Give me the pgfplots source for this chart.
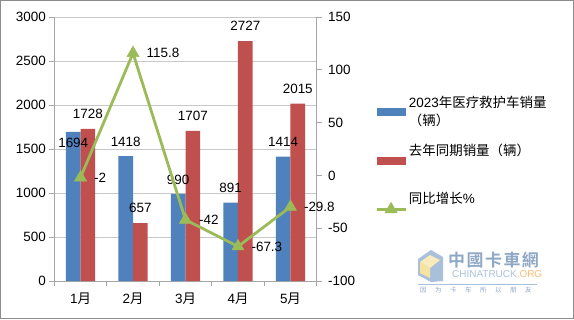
\documentclass[border=0pt]{standalone}
\usepackage{pgfplots}
\pgfplotsset{compat=1.18}
\usepackage{pgfplotstable}
\usepackage{fontspec}
\setmainfont{Liberation Sans}
\newfontfamily\cjk{Noto Sans CJK SC}
\newfontfamily\cjkb{Noto Sans CJK SC Bold}
\definecolor{cblue}{HTML}{4F81BD}
\definecolor{cred}{HTML}{C0504D}
\definecolor{cgreen}{HTML}{9BBB59}
\definecolor{cgrid}{HTML}{C8C8C8}
\definecolor{caxis}{HTML}{A6A6A6}
\definecolor{cframe}{HTML}{8C8C8C}
\definecolor{wmblue}{HTML}{8FA8C6}
\definecolor{wmlight}{HTML}{A9C0DA}
\definecolor{wmyel}{HTML}{F6E3A0}
\pgfplotsset{
  barlegend/.style={legend image code/.code={\fill[##1] (0bp,-4bp) rectangle (29bp,4bp);}},
  linelegend/.style={legend image code/.code={\draw[mark repeat=2,mark phase=2,##1] plot coordinates {(0bp,0bp) (14.5bp,0bp) (29bp,0bp)};}},
}
\pgfplotstableread{
x a b la lb g
0 1694 1728 -11 15 -2
1 1418 657 14.5 15 115.8
2 990 1707 14.5 15 -42
3 891 2727 14.5 15 -67.3
4 1414 2015 14.5 15 -29.8
}\data
\newcommand{\fs}{\fontsize{13.5}{16}\selectfont}
\begin{document}
\begin{tikzpicture}[x=1bp,y=1bp]
\path[use as bounding box] (0,0) rectangle (574,319);
\draw[cframe, line width=1.2bp] (0.6,0.6) rectangle (573.4,318.4);
\begin{axis}[
  at={(54.3bp,38bp)}, anchor=south west, scale only axis,
  width=262.4bp, height=264bp,
  xmin=-0.5, xmax=4.5, ymin=0, ymax=3000,
  ytick={0,500,...,3000},
  ymajorgrids, grid style={cgrid, line width=0.8bp},
  axis x line*=bottom, axis y line*=left,
  axis line style={caxis, line width=0.8bp, -},
  tick style={caxis, line width=0.8bp},
  tick align=outside, major tick length=5bp,
  xtick={-0.5,0.5,...,4.5}, xticklabels={},
  extra x ticks={0,1,2,3,4},
  extra x tick labels={1{\cjk 月},2{\cjk 月},3{\cjk 月},4{\cjk 月},5{\cjk 月}},
  extra x tick style={major tick length=0pt, grid=none, xticklabel style={yshift=-8bp}},
  tick label style={font=\fs, text=black},
  /pgf/number format/assume math mode=true,
  /pgf/number format/1000 sep={},
  ybar=0pt, bar width=14.6bp,
  nodes near coords,
  point meta=explicit symbolic,
  nodes near coords style={font=\fs, text=black, anchor=center, yshift=\myoff bp},
  clip=false,
]
\addplot[fill=cblue, draw=none, visualization depends on={\thisrow{la} \as \myoff}] table[x=x, y=a, meta=a] {\data};
\addplot[fill=cred, draw=none, visualization depends on={\thisrow{lb} \as \myoff}] table[x=x, y=b, meta=b] {\data};
\end{axis}
\begin{axis}[
  at={(54.3bp,38bp)}, anchor=south west, scale only axis,
  width=262.4bp, height=264bp,
  xmin=-0.5, xmax=4.5, ymin=-100, ymax=150,
  ytick={-100,-50,...,150},
  axis x line=none, axis y line*=right,
  axis line style={caxis, line width=0.8bp, -},
  tick style={caxis, line width=0.8bp},
  tick align=outside, major tick length=5bp,
  tick label style={font=\fs, text=black},
  yticklabel style={xshift=3bp},
  /pgf/number format/assume math mode=true,
  clip=false,
  legend style={at={(axis description cs:1.222,0.71)}, anchor=north west,
    draw=none, fill=none, inner sep=0pt, font=\fs, row sep=11bp,
    nodes={text depth=22bp, inner sep=2bp}},
  legend cell align=left,
]
\addlegendimage{barlegend, fill=cblue, draw=none}
\addlegendentry{\begin{tabular}[t]{@{}l@{}}2023{\cjk 年医疗救护车销量}\\[2.5bp]{\cjk （辆）}\end{tabular}}
\addlegendimage{barlegend, fill=cred, draw=none}
\addlegendentry{{\cjk 去年同期销量（辆）}}
\addplot[linelegend, cgreen, line width=2.8bp, mark=triangle*, mark size=7bp,
  mark options={solid, fill=cgreen, draw=cgreen, line width=0.5bp},
  nodes near coords, point meta=explicit symbolic,
  nodes near coords style={font=\fs, text=black, anchor=west, xshift=10bp}]
  table[x=x, y=g, meta=g] {\data};
\addlegendentry{{\cjk 同比增长}\%}
\end{axis}
% watermark
\fill[wmlight] (418,60) -- (431,69) -- (443,62) -- (443,38) -- (431,37) -- (418,44) -- cycle;
\fill[wmyel] (420,57) -- (430,51) -- (430,41) -- (420,46) -- cycle;
\fill[wmyel!70!white] (430,64) -- (440,59) -- (430,51) -- (420,57) -- cycle;
\node[anchor=west, inner sep=0pt, text=wmblue, font=\cjkb\fontsize{17}{17}\selectfont] at (448,59) {中\hspace{1.5bp}國\hspace{1.5bp}卡\hspace{1.5bp}車\hspace{1.5bp}網};
\node[anchor=west, inner sep=0pt, text=wmlight, font=\fontsize{10}{10}\selectfont] at (452,45) {CHINATRUCK\textcolor{orange!55!white}{.ORG}};
\draw[wmlight, line width=0.6bp] (418,35) -- (537,35);
\node[anchor=west, inner sep=0pt, text=wmblue, font=\cjk\fontsize{6.5}{6.5}\selectfont] at (420,29) {因\hspace{8.5bp}为\hspace{8.5bp}卡\hspace{8.5bp}车\hspace{8.5bp}所\hspace{8.5bp}以\hspace{8.5bp}朋\hspace{8.5bp}友};
\end{tikzpicture}
\end{document}
